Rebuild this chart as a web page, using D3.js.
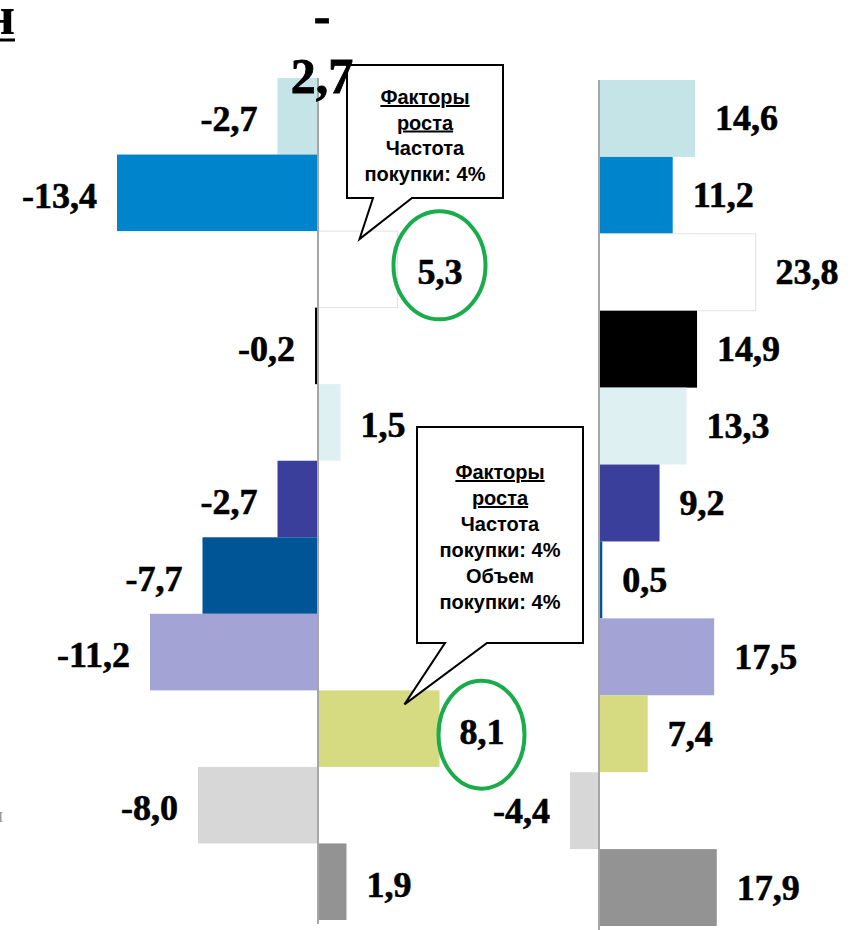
<!DOCTYPE html>
<html>
<head>
<meta charset="utf-8">
<script src="https://cdn.jsdelivr.net/npm/d3@7"></script>
<style>
  html, body { margin: 0; padding: 0; background: #fff; }
  svg { display: block; }
</style>
</head>
<body>
<svg id="chart" width="856" height="930"></svg>
<script>
// Rows, top to bottom
const rows = d3.range(11);
// Left panel: change values
const leftValues = [-2.7, -13.4, 5.3, -0.2, 1.5, -2.7, -7.7, -11.2, 8.1, -8.0, 1.9];
// Right panel: values
const rightValues = [14.6, 11.2, 23.8, 14.9, 13.3, 9.2, 0.5, 17.5, 7.4, -4.4, 17.9];
// Fill colour of each row
const rowColors = ["#c5e4e8", "#0084cc", "#ffffff", "#000000", "#dff0f3", "#3b3f9c",
                   "#005596", "#a3a3d6", "#d6db82", "#d7d7d7", "#939393"];
// Rows whose left values are circled
const circledRows = [2, 8];
// Callout texts: [text, underlined]
const callout1 = [["Факторы", true], ["роста", true], ["Частота", false], ["покупки: 4%", false]];
const callout2 = [["Факторы", true], ["роста", true], ["Частота", false], ["покупки: 4%", false],
                  ["Объем", false], ["покупки: 4%", false]];
// Header fragments
const headerLines = ["-", "2,7"];

const svg = d3.select("#chart");
const fmt = v => v.toFixed(1).replace(".", ",");
const labelFont = "bold 36px 'Liberation Serif', 'Times New Roman', serif";

const xL = d3.scaleLinear().domain([-14, 9]).range([108, 453]);
const yL = d3.scaleBand().domain(rows).range([78, 920]).padding(0);
const xR = d3.scaleLinear().domain([-5, 25]).range([566.1, 763.5]);
const yR = d3.scaleBand().domain(rows).range([80, 926]).padding(0);

function panel(values, x, y, cls, dy) {
  const g = svg.append("g").attr("class", cls);
  g.selectAll("rect").data(rows).join("rect")
    .attr("x", i => Math.min(x(0), x(values[i])))
    .attr("y", i => y(i))
    .attr("width", i => Math.abs(x(values[i]) - x(0)))
    .attr("height", y.bandwidth())
    .attr("fill", i => rowColors[i])
    .attr("stroke", i => rowColors[i] === "#ffffff" ? "#e2e2e2" : "none")
    .attr("stroke-width", 1);
  // zero line
  g.append("line")
    .attr("x1", x(0)).attr("x2", x(0))
    .attr("y1", y.range()[0]).attr("y2", y.range()[1] + 4)
    .attr("stroke", "#a6a6a6").attr("stroke-width", 2);
  // value labels
  g.selectAll("text.val").data(rows).join("text")
    .attr("class", "val")
    .attr("x", i => values[i] < 0 ? x(values[i]) - 20 : x(values[i]) + 20)
    .attr("y", i => y(i) + y.bandwidth() / 2 + dy)
    .attr("text-anchor", i => values[i] < 0 ? "end" : "start")
    .style("font", labelFont)
    .attr("fill", "#000")
    .attr("stroke", "#000").attr("stroke-width", 0.6)
    .text(i => fmt(values[i]));
  return g;
}

panel(leftValues, xL, yL, "left", 15);
panel(rightValues, xR, yR, "right", 12);

// Green rings around highlighted left values
circledRows.forEach(i => {
  const cx = xL(leftValues[i]) + 20 + 22;
  const cy = yL(i) + yL.bandwidth() / 2;
  svg.append("ellipse")
    .attr("cx", cx).attr("cy", cy + (i === 2 ? -4 : 6))
    .attr("rx", i === 2 ? 46 : 43).attr("ry", 54)
    .attr("fill", "none").attr("stroke", "#1aab4b").attr("stroke-width", 4);
});

// Speech-bubble callouts pointing at a bar
function callout(box, base, tip, lines, firstBaseline, lh) {
  const [l, t, r, b] = box;
  const p = d3.path();
  p.moveTo(l, t); p.lineTo(r, t); p.lineTo(r, b);
  p.lineTo(base[1], b); p.lineTo(tip[0], tip[1]); p.lineTo(base[0], b);
  p.lineTo(l, b); p.closePath();
  svg.append("path").attr("d", p.toString())
    .attr("fill", "#fff").attr("stroke", "#000").attr("stroke-width", 2)
    .attr("stroke-linejoin", "miter");
  const cx = (l + r) / 2;
  lines.forEach(([txt, ul], k) => {
    svg.append("text")
      .attr("x", cx).attr("y", firstBaseline + k * lh)
      .attr("text-anchor", "middle")
      .style("font", "bold 20px 'Liberation Sans', Arial, sans-serif")
      .style("text-decoration", ul ? "underline" : null)
      .attr("fill", "#000")
      .text(txt);
  });
}

callout([347, 65, 503, 198], [373, 412],
        [xL(leftValues[2]) - 38, yL(2) + 8], callout1, 104, 25.5);
callout([417, 427, 583, 643], [445, 487],
        [xL(leftValues[8]) - 35, yL(8) + 14], callout2, 479, 26);

// Header fragments above the left panel
svg.selectAll("text.head").data(headerLines).join("text")
  .attr("class", "head")
  .attr("x", 322).attr("y", (d, k) => 33 + k * 60)
  .attr("text-anchor", "middle")
  .style("font", "bold 50px 'Liberation Serif', 'Times New Roman', serif")
  .attr("fill", "#000")
  .attr("stroke", "#000").attr("stroke-width", 0.8)
  .text(d => d);

// Clipped title letter at the top-left corner
svg.append("text")
  .attr("x", 15).attr("y", 34)
  .attr("text-anchor", "end")
  .style("font", "bold 54px 'Liberation Serif', 'Times New Roman', serif")
  .attr("fill", "#000")
  .text("н");
svg.append("line")
  .attr("x1", 0).attr("x2", 15).attr("y1", 40).attr("y2", 40)
  .attr("stroke", "#000").attr("stroke-width", 3);

// Clipped side label near the bottom-left
svg.append("text")
  .attr("x", 3).attr("y", 822)
  .attr("text-anchor", "end")
  .style("font", "20px 'Liberation Serif', serif")
  .attr("fill", "#999")
  .text("н");
</script>
</body>
</html>
